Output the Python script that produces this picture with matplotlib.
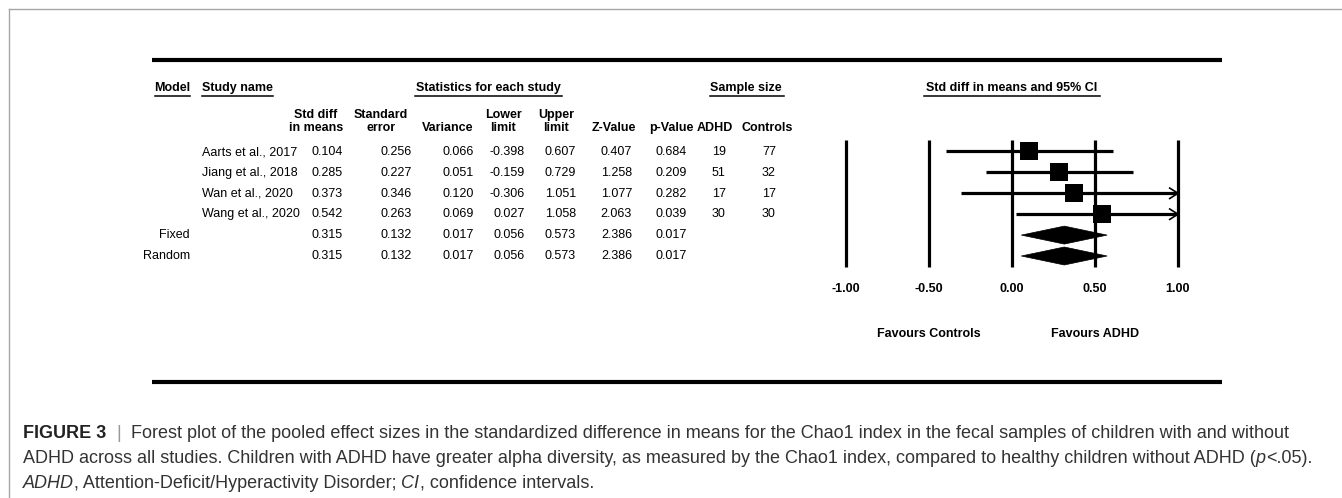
import numpy as np
import matplotlib
matplotlib.use("Agg")
import matplotlib.pyplot as plt
from matplotlib.patches import Polygon

plt.rcParams['font.family'] = ['Liberation Sans', 'DejaVu Sans']

# DATA
studies = ["Aarts et al., 2017", "Jiang et al., 2018", "Wan et al., 2020", "Wang et al., 2020"]
smd = [0.104, 0.285, 0.373, 0.542]
se = [0.256, 0.227, 0.346, 0.263]
var = [0.066, 0.051, 0.120, 0.069]
lower = [-0.398, -0.159, -0.306, 0.027]
upper = [0.607, 0.729, 1.051, 1.058]
zval = [0.407, 1.258, 1.077, 2.063]
pval = [0.684, 0.209, 0.282, 0.039]
n_adhd = [19, 51, 17, 30]
n_ctrl = [77, 32, 17, 30]

models = ["Fixed", "Random"]
m_smd = [0.315, 0.315]
m_se = [0.132, 0.132]
m_var = [0.017, 0.017]
m_lower = [0.056, 0.056]
m_upper = [0.573, 0.573]
m_z = [2.386, 2.386]
m_p = [0.017, 0.017]

xticks = [-1.0, -0.5, 0.0, 0.5, 1.0]

W, H = 1342, 498
fig = plt.figure(figsize=(W / 100, H / 100), dpi=100)
bg = fig.add_axes([0, 0, 1, 1])
bg.set_xlim(0, W)
bg.set_ylim(H, 0)
bg.axis("off")

# frame
bg.plot([9, W], [9, 9], color="#a6a6a6", lw=1.0)
bg.plot([9, 9], [9, H], color="#a6a6a6", lw=1.0)
bg.plot([152, 1222], [60, 60], color="black", lw=3.0, solid_capstyle="butt")
bg.plot([152, 1222], [382, 382], color="black", lw=3.0, solid_capstyle="butt")

FS = 9

# top headers (bold underlined)
def uhead(txt, x, ha, x0, x1):
    bg.text(x, 88, txt, ha=ha, va="center", fontsize=FS, fontweight="bold")
    bg.plot([x0, x1], [95.5, 95.5], color="black", lw=1.1)

uhead("Model", 190, "right", 155, 190)
uhead("Study name", 202, "left", 202, 273)
uhead("Statistics for each study", 488, "center", 415, 562)
uhead("Sample size", 746, "center", 710, 784)
uhead("Std diff in means and 95% CI", 1012, "center", 924, 1100)

# sub headers
subs = [("Std diff\nin means", 316), ("Standard\nerror", 381), ("Variance", 448),
        ("Lower\nlimit", 503), ("Upper\nlimit", 556), ("Z-Value", 614),
        ("p-Value", 671), ("ADHD", 715), ("Controls", 767)]
for txt, x in subs:
    bg.text(x, 131, txt, ha="center", va="baseline", fontsize=FS, fontweight="bold",
            linespacing=1.15)

# table body
row_y = lambda i: 152 + 20.8 * i
num_cols = [(343, smd, m_smd), (412, se, m_se), (474, var, m_var), (525, lower, m_lower),
            (576, upper, m_upper), (632, zval, m_z), (687, pval, m_p)]
for i, name in enumerate(studies):
    y = row_y(i)
    bg.text(202, y, name, ha="left", va="center", fontsize=FS)
    for x, vals, _ in num_cols:
        bg.text(x, y, f"{vals[i]:.3f}", ha="right", va="center", fontsize=FS)
    bg.text(712, y, str(n_adhd[i]), ha="left", va="center", fontsize=FS)
    bg.text(769, y, str(n_ctrl[i]), ha="center", va="center", fontsize=FS)
for j, name in enumerate(models):
    y = row_y(len(studies) + j)
    bg.text(190, y, name, ha="right", va="center", fontsize=FS)
    for x, _, mvals in num_cols:
        bg.text(x, y, f"{mvals[j]:.3f}", ha="right", va="center", fontsize=FS)

# forest plot axes
px0, px1, py0, py1 = 820, 1200, 130, 300
zero_px, unit_px = 1012, 166
row0, rstep = 151.5, 20.9
ax = fig.add_axes([px0 / W, 1 - py1 / H, (px1 - px0) / W, (py1 - py0) / H])
ax.set_xlim((px0 - zero_px) / unit_px, (px1 - zero_px) / unit_px)
ax.set_ylim((py1 - row0) / rstep, (py0 - row0) / rstep)
ax.axis("off")

nrows = len(studies) + len(models)
ax.vlines(xticks, -0.55, nrows - 0.45, color="black", lw=2.3)

xmax = xticks[-1]
for i in range(len(studies)):
    hi = min(upper[i], xmax)
    ax.plot([lower[i], hi], [i, i], color="black", lw=2.3, solid_capstyle="butt")
    if upper[i] > xmax:
        ax.plot([xmax - 0.05, xmax, xmax - 0.05], [i - 0.25, i, i + 0.25],
                color="black", lw=1.2)
    ax.plot(smd[i], i, marker="s", markersize=12.3, color="black", markeredgewidth=0)

for j in range(len(models)):
    r = len(studies) + j
    dia = Polygon([(m_lower[j], r), (m_smd[j], r - 0.43), (m_upper[j], r), (m_smd[j], r + 0.43)],
                  closed=True, facecolor="black", edgecolor="black", lw=0.5)
    ax.add_patch(dia)

for t in xticks:
    ax.text(t, 6.6, f"{t:.2f}", ha="center", va="center", fontsize=FS, fontweight="bold",
            clip_on=False)
ax.text(-0.5, 8.75, "Favours Controls", ha="center", va="center", fontsize=FS,
        fontweight="bold", clip_on=False)
ax.text(0.5, 8.75, "Favours ADHD", ha="center", va="center", fontsize=FS,
        fontweight="bold", clip_on=False)

# caption
CFS = 13.0
ccol = "#333333"
renderer = fig.canvas.get_renderer()

def cap_line(y, pieces):
    x = 23
    for txt, style in pieces:
        kw = dict(fontsize=CFS, color=ccol, va="center", ha="left")
        if style == "b":
            kw["fontweight"] = "bold"
            kw["color"] = "#222222"
        elif style == "i":
            kw["fontstyle"] = "italic"
        elif style == "g":
            kw["color"] = "#999999"
        t = bg.text(x, y, txt, **kw)
        bb = t.get_window_extent(renderer=renderer)
        x += bb.width

cap_line(433, [("FIGURE 3", "b"), ("  ", "n"), ("|", "g"),
               ("  Forest plot of the pooled effect sizes in the standardized difference in means for the Chao1 index in the fecal samples of children with and without", "n")])
cap_line(458, [("ADHD across all studies. Children with ADHD have greater alpha diversity, as measured by the Chao1 index, compared to healthy children without ADHD (", "n"),
               ("p", "i"), ("<.05).", "n")])
cap_line(483, [("ADHD", "i"), (", Attention-Deficit/Hyperactivity Disorder; ", "n"), ("CI", "i"),
               (", confidence intervals.", "n")])

fig.savefig("out.png", dpi=100)
